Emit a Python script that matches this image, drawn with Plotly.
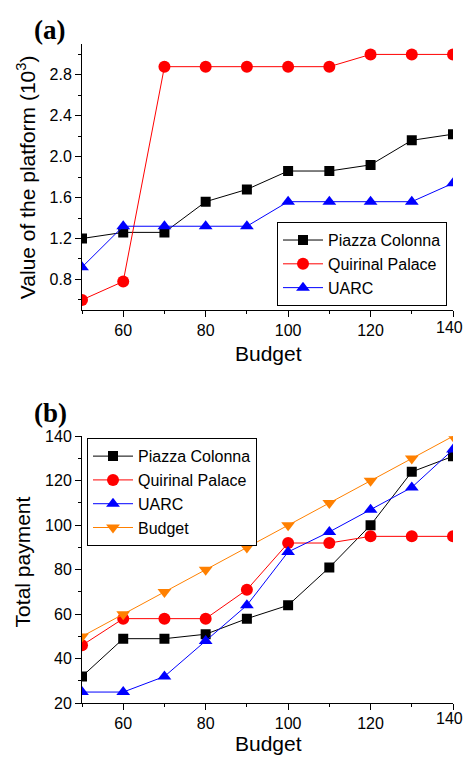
import plotly.graph_objects as go

budget = [50, 60, 70, 80, 90, 100, 110, 120, 130, 140]

# Panel (a): value of the platform (10^3)
a_piazza = [1.20, 1.26, 1.26, 1.56, 1.68, 1.86, 1.86, 1.92, 2.16, 2.22]
a_quirinal = [0.60, 0.78, 2.88, 2.88, 2.88, 2.88, 2.88, 3.00, 3.00, 3.00]
a_uarc = [0.92, 1.32, 1.32, 1.32, 1.32, 1.56, 1.56, 1.56, 1.56, 1.74]

# Panel (b): total payment
b_piazza = [32, 49, 49, 51, 58, 64, 81, 100, 124, 131]
b_quirinal = [46, 58, 58, 58, 71, 92, 92, 95, 95, 95]
b_uarc = [25, 25, 32, 48, 64, 88, 97, 107, 117, 134]
b_budget = [50, 60, 70, 80, 90, 100, 110, 120, 130, 140]

last_tick_label = "140"

names = ["Piazza Colonna", "Quirinal Palace", "UARC", "Budget"]
colors = ["#000000", "#FF0000", "#0000FF", "#FF8000"]
symbols = ["square", "circle", "triangle-up", "triangle-down"]
sizes = [10, 12, 12, 12]

W, H = 465, 764
FONT = "Liberation Sans, Arial, sans-serif"

fig = go.Figure()

def add(series, i, xa, ya, legend):
    fig.add_trace(go.Scatter(
        x=budget, y=series, name=names[i], mode="lines+markers",
        line=dict(color=colors[i], width=1),
        marker=dict(symbol=symbols[i], size=sizes[i], color=colors[i],
                    line=dict(width=0)),
        xaxis=xa, yaxis=ya, legend=legend, cliponaxis=True))

for i, s in enumerate([a_piazza, a_quirinal, a_uarc]):
    add(s, i, "x", "y", "legend")
for i, s in enumerate([b_piazza, b_quirinal, b_uarc, b_budget]):
    add(s, i, "x2", "y2", "legend2")

def px_x(p):
    return p / W

def px_y(p):
    return 1 - p / H

xdom = [px_x(82), px_x(453)]
axis_common = dict(
    showgrid=False, zeroline=False, showline=True, linecolor="black", linewidth=1,
    ticks="outside", ticklen=6, tickwidth=1, tickcolor="black",
    tickfont=dict(family=FONT, size=16, color="black"),
    mirror=False,
)
minor_common = dict(ticklen=3, ticks="outside", tickcolor="black", tickwidth=1)

fig.update_layout(
    width=W, height=H, margin=dict(l=0, r=0, t=0, b=0),
    paper_bgcolor="white", plot_bgcolor="white",
    font=dict(family=FONT, color="black"),
    xaxis=dict(domain=xdom, range=[50, 140], anchor="y", tick0=0, dtick=20,
               minor=dict(dtick=10, **minor_common), **axis_common),
    yaxis=dict(domain=[px_y(309), px_y(37)], range=[0.5, 3.1], anchor="x",
               tick0=0.8, dtick=0.4, tickformat=".1f",
               minor=dict(dtick=0.2, tick0=0.8, **minor_common), **axis_common),
    xaxis2=dict(domain=xdom, range=[50, 140], anchor="y2", tick0=0, dtick=20,
                minor=dict(dtick=10, **minor_common), **axis_common),
    yaxis2=dict(domain=[px_y(711), px_y(438)], range=[20, 140], anchor="x2",
                tick0=0, dtick=20,
                minor=dict(dtick=10, **minor_common), **axis_common),
    legend=dict(x=px_x(447), y=px_y(219), xanchor="right", yanchor="top",
                bordercolor="black", borderwidth=1, bgcolor="white",
                font=dict(family=FONT, size=16, color="black"),
                tracegroupgap=0, itemwidth=40),
    legend2=dict(x=px_x(87), y=px_y(440), xanchor="left", yanchor="top",
                 bordercolor="black", borderwidth=1, bgcolor="white",
                 font=dict(family=FONT, size=16, color="black"),
                 tracegroupgap=0, itemwidth=40),
    showlegend=True,
)

annotations = [
    dict(text="<b>(a)</b>", x=px_x(32), y=px_y(23), xanchor="left", yanchor="middle",
         font=dict(family="Liberation Serif, Times New Roman, serif", size=27)),
    dict(text="<b>(b)</b>", x=px_x(32), y=px_y(414), xanchor="left", yanchor="middle",
         font=dict(family="Liberation Serif, Times New Roman, serif", size=27)),
    dict(text="Budget", x=px_x(268), y=px_y(353), xanchor="center", yanchor="middle",
         font=dict(family=FONT, size=21)),
    dict(text="Budget", x=px_x(268), y=px_y(752), xanchor="center", yanchor="middle",
         font=dict(family=FONT, size=21)),
    dict(text="Value of the platform (10<sup>3</sup>)", x=px_x(26), y=px_y(173),
         xanchor="center", yanchor="middle", textangle=-90,
         font=dict(family=FONT, size=21)),
    dict(text="Total payment", x=px_x(22), y=px_y(567),
         xanchor="center", yanchor="middle", textangle=-90,
         font=dict(family=FONT, size=21)),
    # last x tick label, kept inside the page (plotly hides it past the div edge)
    dict(text=last_tick_label, x=1.0, y=px_y(327), xanchor="right", yanchor="middle",
         font=dict(family=FONT, size=16)),
    dict(text=last_tick_label, x=1.0, y=px_y(727), xanchor="right", yanchor="middle",
         font=dict(family=FONT, size=16)),
]
for a in annotations:
    a.update(xref="paper", yref="paper", showarrow=False)
fig.update_layout(annotations=annotations)

fig.write_html("out.html", config={"displayModeBar": False},
               post_script="document.body.style.margin='0';")
